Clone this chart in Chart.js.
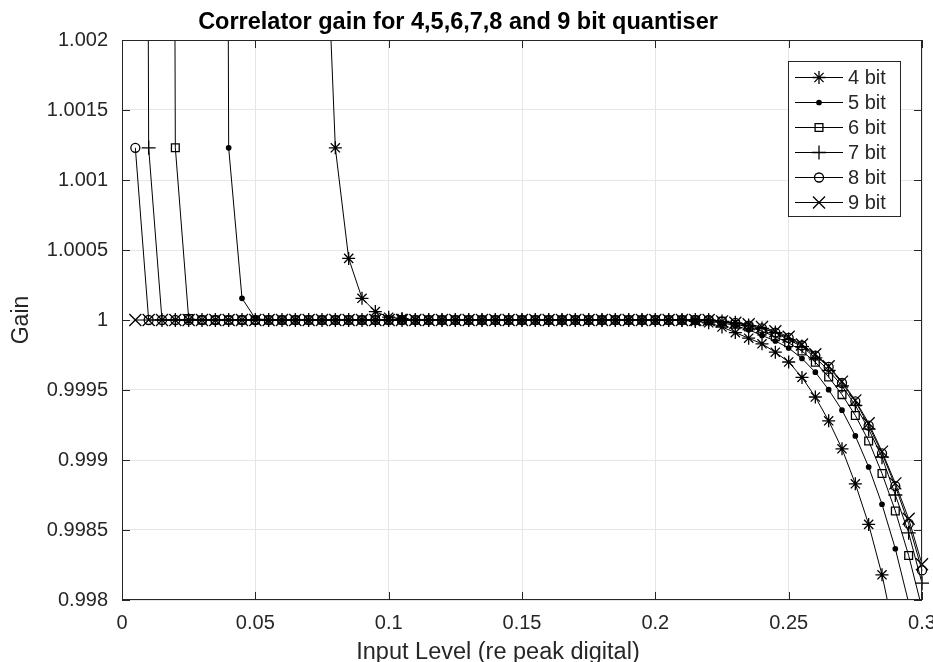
<!DOCTYPE html>
<html>
<head>
<meta charset="utf-8">
<script src="https://cdn.jsdelivr.net/npm/chart.js@4.4.0/dist/chart.umd.min.js"></script>
<style>
  html, body { margin: 0; background: #fff; }
  canvas { display: block; }
</style>
</head>
<body>
<canvas id="chart" width="933" height="662"></canvas>
<script>
// input level (re peak digital), one point every 0.005
const inputLevel = [
  0.005, 0.01, 0.015, 0.02, 0.025, 0.03, 0.035, 0.04, 0.045, 0.05,
  0.055, 0.06, 0.065, 0.07, 0.075, 0.08, 0.085, 0.09, 0.095, 0.1,
  0.105, 0.11, 0.115, 0.12, 0.125, 0.13, 0.135, 0.14, 0.145, 0.15,
  0.155, 0.16, 0.165, 0.17, 0.175, 0.18, 0.185, 0.19, 0.195, 0.2,
  0.205, 0.21, 0.215, 0.22, 0.225, 0.23, 0.235, 0.24, 0.245, 0.25,
  0.255, 0.26, 0.265, 0.27, 0.275, 0.28, 0.285, 0.29, 0.295, 0.3,
];

const gain4bit = [
  null, null, null, null, null, null, null, null, null, null,
  null, null, null, null, 1.0036, 1.00123, 1.00044, 1.000155, 1.00006, 1.00002,
  1.00001, 1, 1, 1, 1, 1, 1, 1, 1, 1,
  1, 1, 1, 1, 1, 1, 1, 1, 1, 1,
  1, 0.999998, 0.99999, 0.99998, 0.99995, 0.99991, 0.99987, 0.99983, 0.99977, 0.9997,
  0.99959, 0.99945, 0.99928, 0.99908, 0.99883, 0.99854, 0.99818, 0.99773, 0.9972, 0.9966,
];
const gain5bit = [
  null, null, null, null, null, null, 1.03, 1.00123, 1.000155, 1.00001,
  1, 1, 1, 1, 1, 1, 1, 1, 1, 1,
  1, 1, 1, 1, 1, 1, 1, 1, 1, 1,
  1, 1, 1, 1, 1, 1, 1, 1, 1, 1,
  1, 1, 1, 0.99999, 0.99998, 0.99996, 0.99993, 0.99989, 0.99985, 0.9998,
  0.999725, 0.999627, 0.999502, 0.999356, 0.999172, 0.99895, 0.998684, 0.998366, 0.99798, 0.99752,
];
const gain6bit = [
  null, null, 1.03, 1.00123, 1.00001, 1, 1, 1, 1, 1,
  1, 1, 1, 1, 1, 1, 1, 1, 1, 1,
  1, 1, 1, 1, 1, 1, 1, 1, 1, 1,
  1, 1, 1, 1, 1, 1, 1, 1, 1, 1,
  1, 1, 1, 0.999995, 0.99999, 0.99997, 0.99995, 0.99992, 0.99988, 0.999837,
  0.999778, 0.999699, 0.999593, 0.999467, 0.999318, 0.999136, 0.998904, 0.998636, 0.998318, 0.99794,
];
const gain7bit = [
  1.03, 1.00123, 1, 1, 1, 1, 1, 1, 1, 1,
  1, 1, 1, 1, 1, 1, 1, 1, 1, 1,
  1, 1, 1, 1, 1, 1, 1, 1, 1, 1,
  1, 1, 1, 1, 1, 1, 1, 1, 1, 1,
  1, 1, 1, 1, 0.99999, 0.99998, 0.99996, 0.99994, 0.99991, 0.99986,
  0.99981, 0.99973, 0.99964, 0.99953, 0.99939, 0.99922, 0.99902, 0.99875, 0.99848, 0.99812,
];
const gain8bit = [
  1.00123, 1, 1, 1, 1, 1, 1, 1, 1, 1,
  1, 1, 1, 1, 1, 1, 1, 1, 1, 1,
  1, 1, 1, 1, 1, 1, 1, 1, 1, 1,
  1, 1, 1, 1, 1, 1, 1, 1, 1, 1,
  1, 1, 1, 1, 0.99999, 0.99998, 0.99996, 0.99994, 0.99991, 0.999873,
  0.999818, 0.999746, 0.999665, 0.99955, 0.999419, 0.999246, 0.999048, 0.998813, 0.998545, 0.998211,
];
const gain9bit = [
  1, 1, 1, 1, 1, 1, 1, 1, 1, 1,
  1, 1, 1, 1, 1, 1, 1, 1, 1, 1,
  1, 1, 1, 1, 1, 1, 1, 1, 1, 1,
  1, 1, 1, 1, 1, 1, 1, 1, 1, 1,
  1, 1, 1, 1, 0.99999, 0.99998, 0.99997, 0.99995, 0.99992, 0.99988,
  0.999825, 0.999755, 0.99967, 0.99956, 0.999426, 0.999263, 0.99906, 0.998833, 0.99858, 0.998255,
];

const seriesLabels = ["4 bit", "5 bit", "6 bit", "7 bit", "8 bit", "9 bit"];
const xTicks = [0, 0.05, 0.1, 0.15, 0.2, 0.25, 0.3];
const yTicks = [0.998, 0.9985, 0.999, 0.9995, 1, 1.0005, 1.001, 1.0015, 1.002];

const FONT = "'Liberation Sans', Arial, Helvetica, sans-serif";
const AXIS = "#262626";

// marker per series, matlab style: * . s + o x
const markers = [
  { pointStyle: "star", radius: 6.5, fill: "rgba(0,0,0,0)" },
  { pointStyle: "circle", radius: 2.2, fill: "#000" },
  { pointStyle: "rect", radius: 5.5, fill: "rgba(0,0,0,0)" },
  { pointStyle: "cross", radius: 7, fill: "rgba(0,0,0,0)" },
  { pointStyle: "circle", radius: 4.5, fill: "rgba(0,0,0,0)" },
  { pointStyle: "crossRot", radius: 8.5, fill: "rgba(0,0,0,0)" },
];

const allGains = [gain4bit, gain5bit, gain6bit, gain7bit, gain8bit, gain9bit];

const datasets = allGains.map((g, k) => ({
  label: seriesLabels[k],
  data: inputLevel.map((x, i) => ({ x: x, y: g[i] })),
  borderColor: "#000",
  borderWidth: 1,
  pointStyle: markers[k].pointStyle,
  pointRadius: markers[k].radius,
  pointBorderColor: "#000",
  pointBackgroundColor: markers[k].fill,
  pointBorderWidth: 1.3,
  tension: 0,
  spanGaps: false,
  clip: { left: 8, top: 0, right: 8, bottom: 0 },
}));

const fmt = (v) => String(+Number(v).toFixed(4));

const frame = {
  id: "frame",
  afterDraw(chart) {
    const { ctx, chartArea: a, scales } = chart;
    ctx.save();
    // box
    ctx.strokeStyle = AXIS;
    ctx.lineWidth = 1;
    ctx.strokeRect(a.left + 0.5, a.top + 0.5, a.right - a.left - 1, a.bottom - a.top - 1);
    // inward ticks
    const tl = 8;
    ctx.beginPath();
    xTicks.forEach((v) => {
      const px = Math.round(scales.x.getPixelForValue(v)) + 0.5;
      ctx.moveTo(px, a.bottom);
      ctx.lineTo(px, a.bottom - tl);
      ctx.moveTo(px, a.top);
      ctx.lineTo(px, a.top + tl);
    });
    yTicks.forEach((v) => {
      const py = Math.round(scales.y.getPixelForValue(v)) + 0.5;
      ctx.moveTo(a.left, py);
      ctx.lineTo(a.left + tl, py);
      ctx.moveTo(a.right, py);
      ctx.lineTo(a.right - tl, py);
    });
    ctx.stroke();

    // title and x label
    ctx.fillStyle = "#000";
    ctx.font = "bold 23.5px " + FONT;
    ctx.textAlign = "center";
    ctx.textBaseline = "alphabetic";
    ctx.fillText("Correlator gain for 4,5,6,7,8 and 9 bit quantiser", 458, 29);
    ctx.fillStyle = AXIS;
    ctx.font = "23.5px " + FONT;
    ctx.fillText("Input Level (re peak digital)", 498, 659);

    // legend
    const lx = 788, ly = 61, lw = 112, lh = 155;
    ctx.fillStyle = "#fff";
    ctx.fillRect(lx, ly, lw, lh);
    ctx.strokeStyle = AXIS;
    ctx.strokeRect(lx + 0.5, ly + 0.5, lw, lh);
    ctx.font = "20px " + FONT;
    ctx.textAlign = "left";
    ctx.textBaseline = "middle";
    seriesLabels.forEach((name, k) => {
      const y = ly + 16 + k * 25;
      ctx.strokeStyle = "#000";
      ctx.lineWidth = 1;
      ctx.beginPath();
      ctx.moveTo(795, y + 0.5);
      ctx.lineTo(843, y + 0.5);
      ctx.stroke();
      ctx.fillStyle = markers[k].fill;
      ctx.lineWidth = 1.3;
      Chart.helpers.drawPoint(ctx, {
        pointStyle: markers[k].pointStyle,
        radius: markers[k].radius,
        borderWidth: 1.3,
        rotation: 0,
      }, 819, y + 0.5);
      ctx.fillStyle = AXIS;
      ctx.fillText(name, 848, y + 1);
    });
    ctx.restore();
  },
};

new Chart(document.getElementById("chart").getContext("2d"), {
  type: "line",
  data: { datasets: datasets },
  options: {
    responsive: false,
    animation: false,
    layout: { padding: { top: 40, right: 11, left: 0, bottom: 0 } },
    plugins: {
      legend: { display: false },
      title: { display: false },
      tooltip: { enabled: false },
    },
    scales: {
      x: {
        type: "linear",
        min: 0,
        max: 0.3,
        afterBuildTicks: (s) => { s.ticks = xTicks.map((v) => ({ value: v })); },
        afterFit: (s) => { s.height = 62; s.paddingLeft = 0; s.paddingRight = 0; },
        grid: { color: "#e6e6e6", drawTicks: false },
        border: { display: false },
        ticks: {
          padding: 11,
          color: AXIS,
          font: { family: FONT, size: 20 },
          maxRotation: 0,
          autoSkip: false,
          callback: fmt,
        },
        title: { display: false },
      },
      y: {
        type: "linear",
        min: 0.998,
        max: 1.002,
        afterBuildTicks: (s) => { s.ticks = yTicks.map((v) => ({ value: v })); },
        afterFit: (s) => { s.width = 122; s.paddingTop = 0; s.paddingBottom = 0; },
        grid: { color: "#e6e6e6", drawTicks: false },
        border: { display: false },
        ticks: {
          padding: 14,
          color: AXIS,
          font: { family: FONT, size: 20 },
          autoSkip: false,
          callback: fmt,
        },
        title: {
          display: true,
          text: "Gain",
          color: AXIS,
          font: { family: FONT, size: 23, lineHeight: 1 },
          padding: { top: 10, bottom: 0 },
        },
      },
    },
  },
  plugins: [frame],
});
</script>
</body>
</html>
